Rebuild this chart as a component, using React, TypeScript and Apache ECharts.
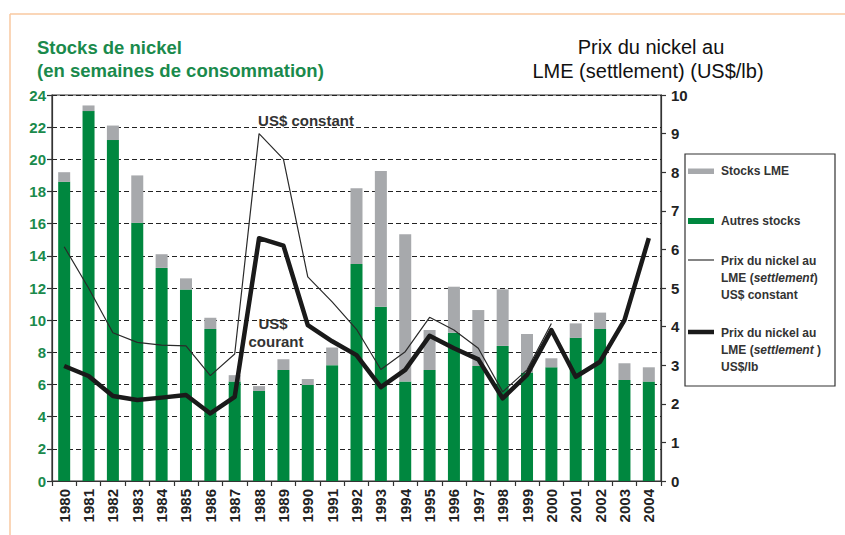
import React, { useEffect, useRef } from "react";
import * as echarts from "echarts";

const years = ["1980","1981","1982","1983","1984","1985","1986","1987","1988","1989","1990","1991","1992","1993","1994","1995","1996","1997","1998","1999","2000","2001","2002","2003","2004"];
const autresStocks = [18.6, 23.0, 21.2, 16.05, 13.25, 11.9, 9.45, 6.18, 5.6, 6.9, 5.97, 7.2, 13.5, 10.84, 6.18, 6.9, 9.22, 7.15, 8.4, 6.74, 7.07, 8.9, 9.45, 6.28, 6.18];
const stocksLME = [0.6, 0.35, 0.9, 2.95, 0.85, 0.7, 0.7, 0.4, 0.3, 0.67, 0.37, 1.1, 4.7, 8.44, 9.16, 2.49, 2.86, 3.48, 3.52, 2.4, 0.56, 0.9, 1.02, 1.04, 0.89];
const prixCourant = [2.98, 2.72, 2.2, 2.1, 2.16, 2.23, 1.75, 2.18, 6.29, 6.1, 4.04, 3.62, 3.26, 2.43, 2.88, 3.76, 3.44, 3.15, 2.14, 2.75, 3.91, 2.7, 3.09, 4.17, 6.29];
const prixConstant = [6.07, 5.0, 3.84, 3.59, 3.52, 3.5, 2.73, 3.29, 9.0, 8.34, 5.29, 4.64, 3.93, 2.89, 3.35, 4.24, 3.91, 3.44, 2.31, 2.88, 4.08, null, null, null, null];
const leftTicks = { min: 0, max: 24, interval: 2 };
const rightTicks = { min: 0, max: 10, interval: 1 };

const GREEN = "#00873f";
const GREY = "#a7a9ac";
const TITLE_GREEN = "#1a8a4c";
const FONT = "'Liberation Sans', Arial, sans-serif";
const DARK = "#222";

export default function App() {
  const ref = useRef<HTMLDivElement>(null);
  useEffect(() => {
    if (!ref.current) return;
    const chart = echarts.init(ref.current, null, { renderer: "svg" });
    const legendText = (y: number, text: string) => ({
      type: "text",
      x: 721,
      y,
      style: {
        text,
        font: `bold 12px ${FONT}`,
        fill: "#333",
        verticalAlign: "top",
        lineHeight: 17,
        rich: { i: { fontStyle: "italic", fontWeight: "bold", fontSize: 12, fontFamily: FONT, fill: "#333" } },
      },
    });
    chart.setOption({
      animation: false,
      textStyle: { fontFamily: FONT },
      grid: { left: 52, right: 184, top: 95, bottom: 54, show: true, borderColor: "#333", borderWidth: 1.2, backgroundColor: "transparent" },
      xAxis: {
        type: "category",
        data: years,
        boundaryGap: true,
        axisLine: { lineStyle: { color: "#333", width: 1.2 } },
        axisTick: { show: true, interval: 0, length: 5, lineStyle: { color: "#333", width: 1.2 } },
        axisLabel: { interval: 0, rotate: 90, margin: 8, fontSize: 15, fontWeight: "bold", color: DARK, fontFamily: FONT },
      },
      yAxis: [
        {
          type: "value",
          ...leftTicks,
          position: "left",
          axisLine: { show: true, lineStyle: { color: "#333", width: 1.2 } },
          axisTick: { show: true, length: 5, lineStyle: { color: "#333", width: 1.2 } },
          axisLabel: { margin: 6, fontSize: 15, fontWeight: "bold", color: TITLE_GREEN, fontFamily: FONT },
          splitLine: { show: true, lineStyle: { type: [5, 3], color: "#222", width: 1.2 } },
        },
        {
          type: "value",
          ...rightTicks,
          position: "right",
          axisLine: { show: true, lineStyle: { color: "#333", width: 1.2 } },
          axisTick: { show: true, length: 5, lineStyle: { color: "#333", width: 1.2 } },
          axisLabel: { margin: 10, fontSize: 15, fontWeight: "bold", color: DARK, fontFamily: FONT },
          splitLine: { show: false },
        },
      ],
      series: [
        { name: "Autres stocks", type: "bar", stack: "s", yAxisIndex: 0, data: autresStocks, barWidth: 12, itemStyle: { color: GREEN } },
        { name: "Stocks LME", type: "bar", stack: "s", yAxisIndex: 0, data: stocksLME, barWidth: 12, itemStyle: { color: GREY } },
        { name: "US$ constant", type: "line", yAxisIndex: 1, data: prixConstant, symbol: "none", lineStyle: { color: "#2a2a2a", width: 1.2 }, z: 3 },
        { name: "US$/lb", type: "line", yAxisIndex: 1, data: prixCourant, symbol: "none", lineStyle: { color: "#1a1a1a", width: 4.5, join: "round" }, z: 4 },
      ],
      graphic: [
        { type: "line", shape: { x1: 10, y1: 14, x2: 845, y2: 14 }, style: { stroke: "#f8c9a0", lineWidth: 1.5 } },
        { type: "line", shape: { x1: 10, y1: 14, x2: 10, y2: 535 }, style: { stroke: "#f8c9a0", lineWidth: 1.5 } },
        { type: "text", x: 37, y: 47, style: { text: "Stocks de nickel", font: `bold 18.5px ${FONT}`, fill: TITLE_GREEN, verticalAlign: "middle" } },
        { type: "text", x: 37, y: 70, style: { text: "(en semaines de consommation)", font: `bold 18.5px ${FONT}`, fill: TITLE_GREEN, verticalAlign: "middle" } },
        { type: "text", x: 651, y: 47, style: { text: "Prix du nickel au", font: `20px ${FONT}`, fill: "#111", align: "center", verticalAlign: "middle" } },
        { type: "text", x: 648, y: 71, style: { text: "LME (settlement) (US$/lb)", font: `20px ${FONT}`, fill: "#111", align: "center", verticalAlign: "middle" } },
        { type: "text", x: 306, y: 120, style: { text: "US$ constant", font: `bold 15px ${FONT}`, fill: "#333", align: "center", verticalAlign: "middle" } },
        { type: "text", x: 273, y: 323, style: { text: "US$", font: `bold 15px ${FONT}`, fill: "#333", align: "center", verticalAlign: "middle" } },
        { type: "text", x: 276, y: 341, style: { text: "courant", font: `bold 15px ${FONT}`, fill: "#333", align: "center", verticalAlign: "middle" } },
        { type: "rect", shape: { x: 685, y: 154, width: 150, height: 232 }, style: { fill: "#fff", stroke: "#333", lineWidth: 1.2 } },
        { type: "rect", shape: { x: 688, y: 168.5, width: 26, height: 5.5 }, style: { fill: GREY } },
        { type: "text", x: 721, y: 171, style: { text: "Stocks LME", font: `bold 12px ${FONT}`, fill: "#333", verticalAlign: "middle" } },
        { type: "rect", shape: { x: 688, y: 218, width: 26, height: 6 }, style: { fill: GREEN } },
        { type: "text", x: 721, y: 221, style: { text: "Autres stocks", font: `bold 12px ${FONT}`, fill: "#333", verticalAlign: "middle" } },
        { type: "line", shape: { x1: 688, y1: 260, x2: 714, y2: 260 }, style: { stroke: "#333", lineWidth: 1.2 } },
        legendText(252, "Prix du nickel au\nLME ({i|settlement})\nUS$ constant"),
        { type: "line", shape: { x1: 688, y1: 332, x2: 714, y2: 332 }, style: { stroke: "#1a1a1a", lineWidth: 4.5 } },
        legendText(324, "Prix du nickel au\nLME ({i|settlement} )\nUS$/lb"),
      ],
    });
    return () => chart.dispose();
  }, []);
  return <div ref={ref} style={{ position: "fixed", left: 0, top: 0, width: 845, height: 535, background: "#fff" }} />;
}
